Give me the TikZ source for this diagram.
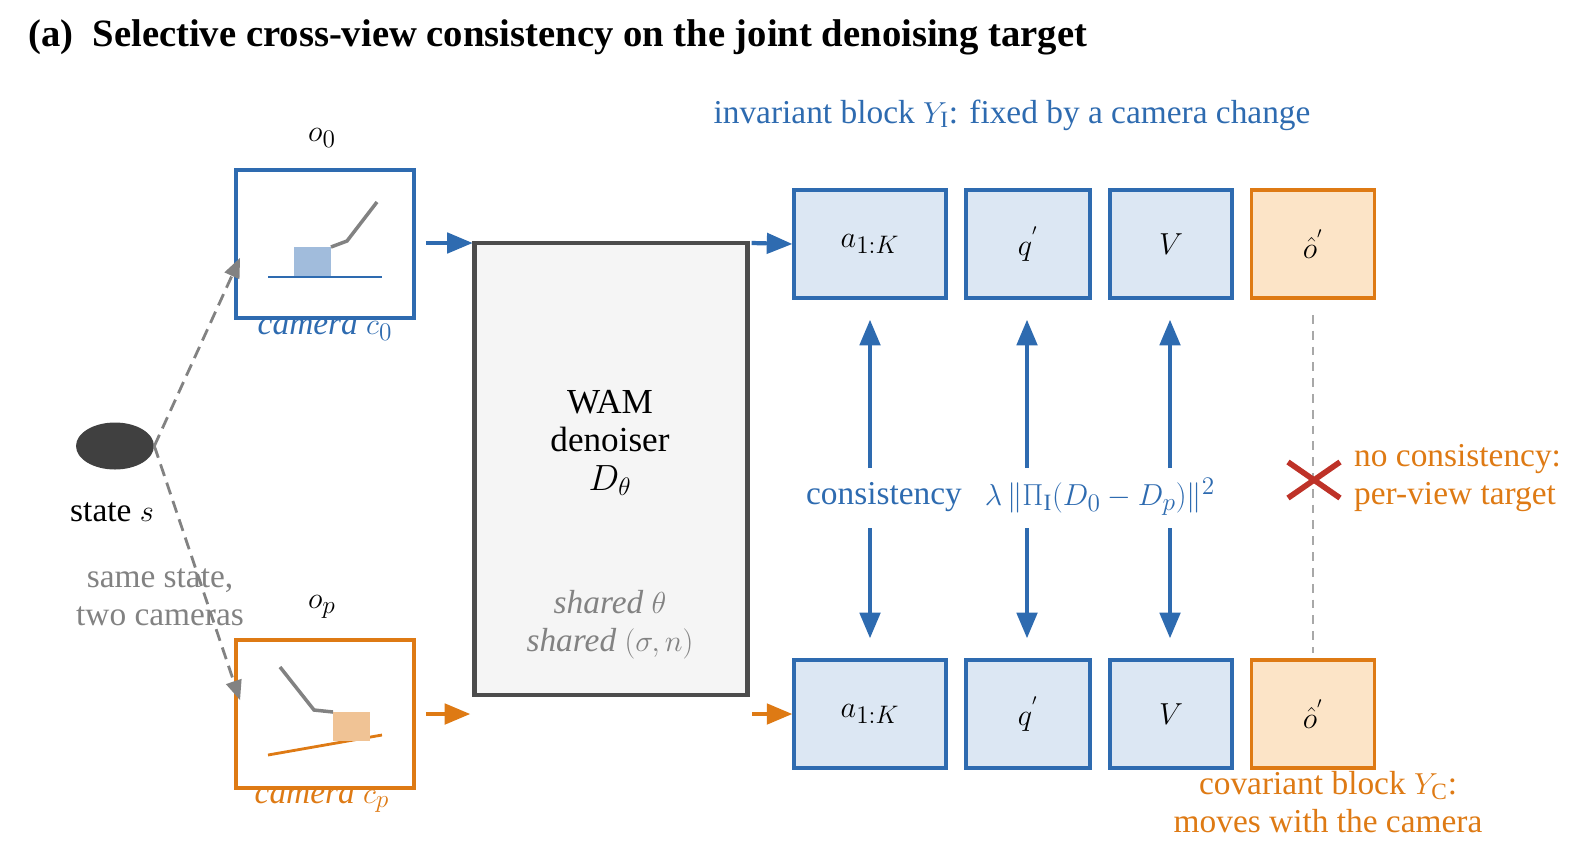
\documentclass[tikz,border=0pt]{standalone}
\usepackage{fontspec}
\setmainfont{Liberation Serif}
\usepackage{tikz}
\usetikzlibrary{positioning}
\usetikzlibrary{shapes,arrows}
\usetikzlibrary{calc}
\definecolor{myblue}{RGB}{46,107,176}
\definecolor{myorange}{RGB}{222,122,20}
\definecolor{lblue}{RGB}{220,231,243}
\definecolor{lorange}{RGB}{252,228,199}
\definecolor{mygray}{RGB}{130,130,130}
\definecolor{myred}{RGB}{190,50,40}
\begin{document}
\begin{tikzpicture}
    [%%%%%%%%%%%%%%%%%%%%%%%%%%%%%%
        x=0.02cm,y=-0.02cm,
        tok/.style={rectangle,draw=myblue,line width=2.2pt,fill=lblue,minimum height=2.16cm,font=\fontsize{19}{22}\selectfont},
        otok/.style={tok,draw=myorange,fill=lorange},
        cam/.style={rectangle,draw,line width=2.2pt,minimum width=3.56cm,minimum height=2.96cm},
        lab/.style={font=\fontsize{19}{21.5}\selectfont},
        flow/.style={-triangle 45,line width=2.4pt},
        cons/.style={-triangle 45,line width=2.4pt,draw=myblue},
        dsh/.style={dash pattern=on 7pt off 4pt,line width=1.6pt}
    ]%%%%%%%%%%%%%%%%%%%%%%%%%%%%%%
\useasboundingbox (0,0) rectangle (1574,863);

\node[anchor=west,font=\fontsize{22}{25}\selectfont\bfseries] (title) at (22,37) {(a)\ \ Selective cross-view consistency on the joint denoising target};
\node[lab,myblue] (inv) at (1012,115) {invariant block $Y_{\mathrm{I}}$: fixed by a camera change};

% cameras
\node[cam,draw=myblue] (o0) at (325,244) {};
\node[cam,draw=myorange] (op) at (325,714) {};
\node[lab] at (322,138) {$o_0$};
\node[lab] at (322,607) {$o_p$};
\node[lab,myblue] at (325,330) {\itshape camera $c_0$};
\node[lab,myorange] at (322,800) {\itshape camera $c_p$};

\draw[myblue,line width=1.6pt] (268,277) -- (382,277);
\fill[myblue!45] (294,247) rectangle (331,276);
\draw[mygray,line width=2pt] (331,247) -- (347,241) -- (377,202);

\draw[myorange,line width=1.6pt] (268,755) -- (382,735);
\fill[myorange!45] (333,712) rectangle (370,741);
\draw[mygray,line width=2pt] (280,667) -- (314,710) -- (333,712);

% state
\node[ellipse,fill=black!75,minimum width=1.56cm,minimum height=0.94cm,inner sep=0pt] (s) at (115,446) {};
\node[lab] (slab) at (112,512) {state $s$};
\coordinate (s0) at (240,258);
\coordinate (sp) at (240,700);
\draw[-triangle 45,dsh,mygray] (s.east) -- (s0);
\draw[-triangle 45,dsh,mygray] (s.east) -- (sp);
\node[lab,mygray,align=center] at (160,597) {same state,\\two cameras};

% denoiser
\node[rectangle,draw=black!70,line width=2.4pt,fill=black!4,minimum width=5.46cm,minimum height=9.04cm] (wam) at (611,469) {};
\node[lab,align=center,font=\fontsize{20}{22}\selectfont] at (610,443) {WAM\\denoiser\\$D_\theta$};
\node[lab,mygray,align=center] at (610,625) {\itshape shared $\theta$\\\itshape shared $(\sigma,n)$};
\coordinate (inb) at (470,714);
\draw[flow,myblue] (o0.east |- 0,243) ++(10,0) -- (wam.west |- 0,243);
\draw[flow,myorange] (op.east |- 0,714) ++(10,0) -- (inb);

% tokens
\foreach \n/\x/\w/\t in {a/870/3.04/{$a_{1:K}$},q/1028/2.48/{$q^{'}$},v/1171/2.44/{$V$}}{
    \node[tok,minimum width=\w cm] (\n t) at (\x,244) {\t};
    \node[tok,minimum width=\w cm] (\n b) at (\x,714) {\t};
}
\node[otok,minimum width=2.46cm] (ot) at (1313,244) {$\hat{o}^{'}$};
\node[otok,minimum width=2.46cm] (ob) at (1313,714) {$\hat{o}^{'}$};
\draw[flow,myblue] (wam.east |- 0,243) ++(2,0) -- (at.west);
\draw[flow,myorange] (752,714) -- (ab.west);

\node[lab,myblue] (cons) at (884,497) {consistency};
\node[lab,myblue] (loss) at (1100,497) {$\lambda\,\|\Pi_{\mathrm{I}}(D_0-D_p)\|^2$};
\foreach \x in {870,1027,1170}{
    \draw[cons] (\x,468) -- (\x,320);
    \draw[cons] (\x,528) -- (\x,638);
}

\draw[dash pattern=on 5pt off 4pt,mygray!70,line width=1.6pt] (ot.south) ++(0,15) -- ($(ob.north)+(0,-5)$);
\draw[myred,line width=3.2pt] (1288,462) -- (1340,498) (1288,498) -- (1340,462);
\node[lab,myorange,anchor=west,align=left] at (1348,478) {no consistency:\\per-view target};
\node[lab,myorange,align=center] at (1328,802) {covariant block $Y_{\mathrm{C}}$:\\moves with the camera};
\end{tikzpicture}
\end{document}
